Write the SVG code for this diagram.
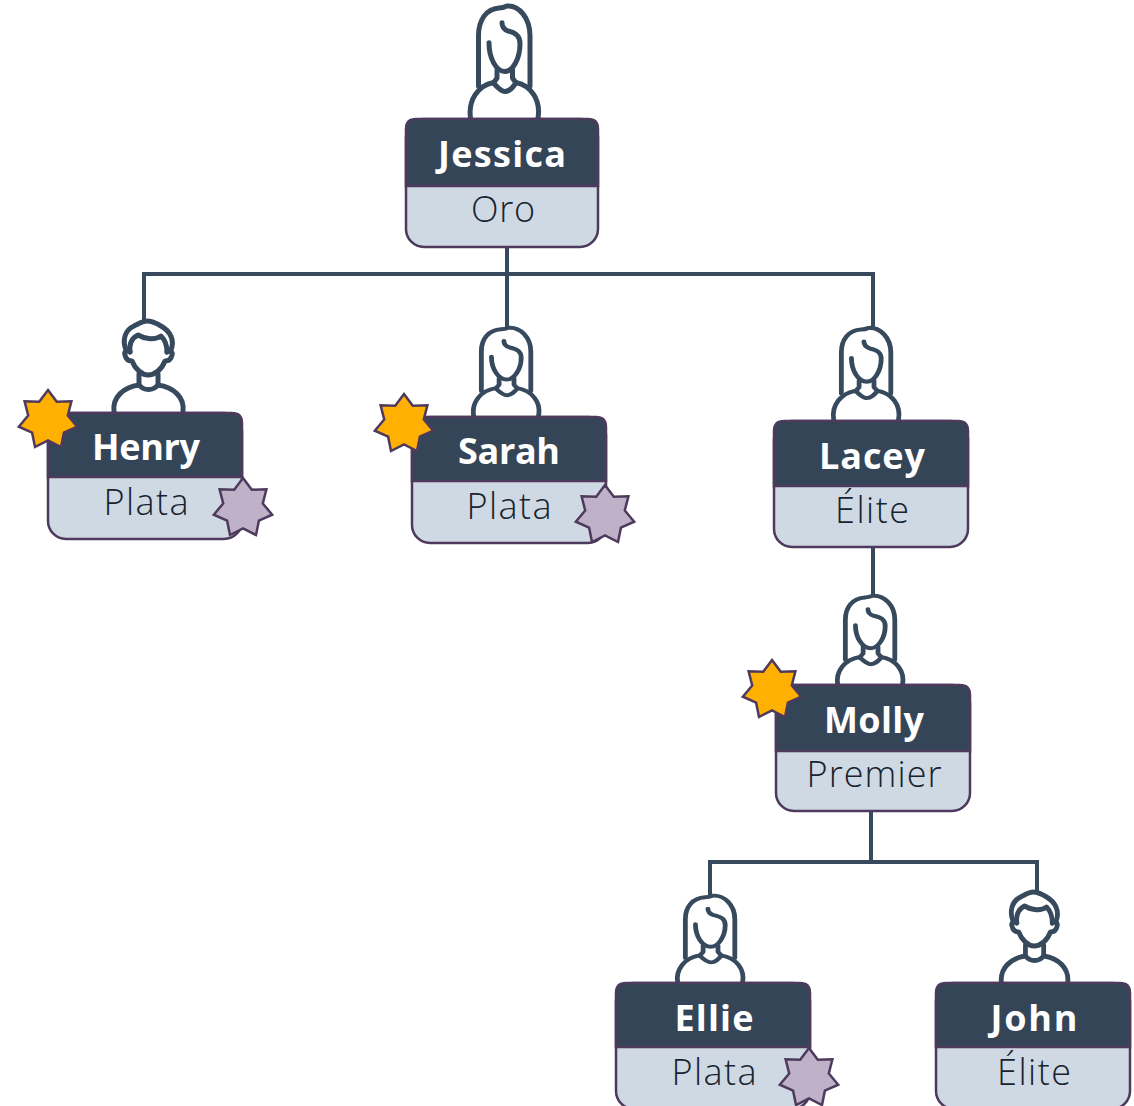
<svg xmlns="http://www.w3.org/2000/svg" width="1134" height="1106" viewBox="0 0 1134 1106">
<style>
.ico{fill:none;stroke:#374a5d;stroke-width:5;stroke-linecap:round;stroke-linejoin:round}
.conn{fill:none;stroke:#374a5d;stroke-width:4}
.body{fill:#cfd9e4;stroke:#4e3a5c;stroke-width:2.5}
.head{fill:#344558;stroke:#4e3a5c;stroke-width:2.5}
.name{font-family:"Open Sans","Lato","Liberation Sans",sans-serif;font-weight:700;font-size:36px;fill:#fff;text-anchor:middle}
.tier{font-family:"Open Sans","Lato","Liberation Sans",sans-serif;font-weight:300;font-size:36px;fill:#17232e;text-anchor:middle}
.gold{fill:#ffb000;stroke:#4e3a5c;stroke-width:2.5}
.plum{fill:#bfb2c8;stroke:#4e3a5c;stroke-width:2.5}
</style>
<defs>
<g id="woman" class="ico">
<path d="M478.500 86V36C478.500 20 486 9 499 8Q503 8 507 6C519 5 530 18 530 36V86"/>
<path d="M489 42.700C489 58 496 71.500 505 71.500C513 71.500 520 58 520 44C520 36 516 33 508 31C503 29 502 26 502 22.700"/>
<path d="M497 70V78L493.500 83C497 87 501 91.500 505 91.500C510 91.500 513 87 516 83L512.500 78V70"/>
<path d="M470.500 118C468 100 478 85.500 493.500 82.500M516 82.500C531 85.500 541 100 538 118"/>
</g>
<g id="man" class="ico">
<path d="M126 350C122 340 125 330 134 326C140 323 143 321 147 321C152 321 156 323 161 326C170 331 175 340 171 350"/>
<path d="M130 352C129 344 132 338 138 335C143 338 154 341 161 336C165 340 167 346 167 352"/>
<path d="M130 352C126 350 124 352 125 355C126 360 129 361 132 361C135 369 142 375 148 375C155 375 162 369 165 361C168 361 171 360 172 355C173 352 170 350 167 352"/>
<path d="M139 374V385C144 391 153 391 158 385V374"/>
<path d="M114 412C112 397 124 387 139 385M158 385C173 387 185 397 183 412"/>
</g>
<polygon id="star" points="0,-30 8.800,-18.300 23.400,-18.700 19.800,-4.500 29.200,6.700 15.900,12.700 13,27 0,20.300 -13,27 -15.900,12.700 -29.200,6.700 -19.800,-4.500 -23.400,-18.700 -8.800,-18.300"/>
</defs>

<g id="connectors">
<path class="conn" d="M507 242V327M144 322V274H873V327"/>
<path class="conn" d="M873 547V595"/>
<path class="conn" d="M871 811V862M710 895V862H1037V892"/>
</g>

<g id="node-jessica">
<use href="#woman"/>
<rect class="body" x="406" y="119" width="192" height="128" rx="18"/>
<path class="head" d="M406 186V129Q406 119 416 119H588Q598 119 598 129V186Z"/>
<text class="name" x="502" y="167" textLength="128" lengthAdjust="spacing">Jessica</text>
<text class="tier" x="503" y="222" textLength="64" lengthAdjust="spacing">Oro</text>
</g>

<g id="node-henry">
<use href="#man"/>
<rect class="body" x="48" y="413" width="194" height="126" rx="18"/>
<path class="head" d="M48 477V423Q48 413 58 413H232Q242 413 242 423V477Z"/>
<text class="name" x="146" y="460" textLength="108" lengthAdjust="spacing">Henry</text>
<text class="tier" x="146" y="515" textLength="85" lengthAdjust="spacing">Plata</text>
<use href="#star" class="gold" x="48" y="420"/>
<use href="#star" class="plum" x="243" y="508"/>
</g>

<g id="node-sarah">
<use href="#woman" transform="translate(22 323) scale(.96 .79)"/>
<rect class="body" x="412" y="417" width="194" height="126" rx="18"/>
<path class="head" d="M412 481V427Q412 417 422 417H596Q606 417 606 427V481Z"/>
<text class="name" x="509" y="464" textLength="102" lengthAdjust="spacing">Sarah</text>
<text class="tier" x="509" y="519" textLength="85" lengthAdjust="spacing">Plata</text>
<use href="#star" class="gold" x="404" y="424"/>
<use href="#star" class="plum" x="605" y="515"/>
</g>

<g id="node-lacey">
<use href="#woman" transform="translate(382 323) scale(.96 .82)"/>
<rect class="body" x="774" y="421" width="194" height="126" rx="18"/>
<path class="head" d="M774 486V431Q774 421 784 421H958Q968 421 968 431V486Z"/>
<text class="name" x="872" y="469" textLength="106" lengthAdjust="spacing">Lacey</text>
<text class="tier" x="872" y="523" textLength="74" lengthAdjust="spacing">Élite</text>
</g>

<g id="node-molly">
<use href="#woman" transform="translate(386 591) scale(.96 .8)"/>
<rect class="body" x="776" y="685" width="194" height="126" rx="18"/>
<path class="head" d="M776 751V695Q776 685 786 685H960Q970 685 970 695V751Z"/>
<text class="name" x="874" y="733" textLength="100" lengthAdjust="spacing">Molly</text>
<text class="tier" x="874" y="787" textLength="135" lengthAdjust="spacing">Premier</text>
<use href="#star" class="gold" x="772" y="690"/>
</g>

<g id="node-ellie">
<use href="#woman" transform="translate(226 891) scale(.96 .78)"/>
<rect class="body" x="616" y="983" width="194" height="126" rx="18"/>
<path class="head" d="M616 1047V993Q616 983 626 983H800Q810 983 810 993V1047Z"/>
<text class="name" x="714" y="1031" textLength="79" lengthAdjust="spacing">Ellie</text>
<text class="tier" x="714" y="1085" textLength="85" lengthAdjust="spacing">Plata</text>
<use href="#star" class="plum" x="809" y="1078"/>
</g>

<g id="node-john">
<use href="#man" transform="translate(892 571) scale(.96 1)"/>
<rect class="body" x="936" y="983" width="194" height="126" rx="18"/>
<path class="head" d="M936 1047V993Q936 983 946 983H1120Q1130 983 1130 993V1047Z"/>
<text class="name" x="1034" y="1031" textLength="87" lengthAdjust="spacing">John</text>
<text class="tier" x="1034" y="1085" textLength="74" lengthAdjust="spacing">Élite</text>
</g>
</svg>
